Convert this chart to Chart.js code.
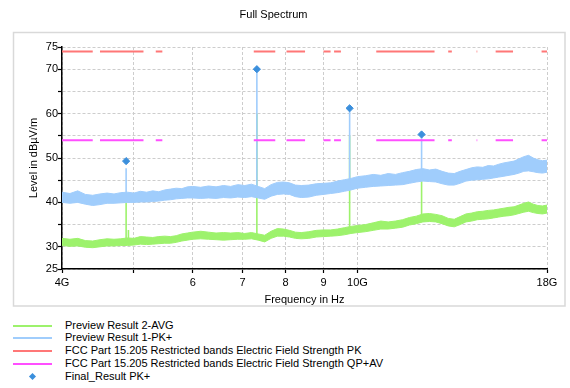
<!DOCTYPE html>
<html><head><meta charset="utf-8">
<script src="https://cdn.jsdelivr.net/npm/chart.js@4/dist/chart.umd.min.js"></script>
<style>
html,body{margin:0;padding:0;background:#fff;}
#wrap{position:relative;width:570px;height:388px;overflow:hidden;font-family:"Liberation Sans",Arial,sans-serif;}
#c{position:absolute;left:0;top:0;}
.lg{position:absolute;left:0;width:570px;height:13px;line-height:13px;font-size:11px;color:#000;white-space:nowrap;}
.lg .sw{position:absolute;left:13px;top:6px;width:39px;height:2px;}
.lg .mk{position:absolute;left:29.5px;top:4px;width:5px;height:5px;transform:rotate(45deg);}
.lg .tx{position:absolute;left:65px;top:0;}
</style></head><body>
<div id="wrap"><canvas id="c" width="570" height="310"></canvas><div id="legend"></div></div>
<script>
// ---- data (GHz / dBµV/m) ----
const freqGHz = [4.0,4.1,4.2,4.3,4.4,4.5,4.6,4.7,4.8,4.9,5.0,5.1,5.2,5.3,5.4,5.5,5.6,5.7,5.8,5.9,6.0,
  6.15,6.3,6.45,6.6,6.75,6.9,7.05,7.2,7.35,7.5,7.65,7.8,7.95,8.1,8.25,8.4,
  8.6,8.8,9.0,9.2,9.4,9.6,9.8,10.0,
  10.25,10.5,10.75,11.0,11.25,11.5,11.75,12.0,12.25,12.5,12.75,13.0,13.25,13.5,13.75,14.0,
  14.25,14.5,14.75,15.0,15.25,15.5,15.75,16.0,16.25,16.5,16.75,17.0,17.25,17.5,17.75,18.0];
const pkHi = [42.3,42.0,42.6,41.8,41.6,41.9,42.1,41.9,42.2,42.3,42.1,42.5,42.3,42.6,42.4,42.8,43.0,43.2,43.1,43.5,43.6,
  43.4,43.7,43.5,43.8,43.6,44.0,43.8,44.1,43.6,43.1,44.0,44.5,44.6,44.4,43.9,43.8,
  43.9,44.2,44.3,44.4,44.8,45.1,45.4,45.8,
  46.0,46.3,46.1,46.5,46.3,46.7,47.0,47.4,47.6,47.3,47.5,47.0,46.6,46.5,47.0,47.4,
  47.8,48.0,47.9,48.3,48.2,48.6,48.9,49.1,49.3,49.8,50.3,50.6,50.0,49.6,49.4,49.5];
const pkLo = [40.0,39.8,40.0,39.6,39.3,39.5,39.8,39.8,39.9,40.0,40.0,40.1,40.1,40.2,40.3,40.5,40.6,40.8,40.9,41.0,41.0,
  40.9,41.0,40.9,41.1,41.0,41.2,41.1,41.3,41.0,40.7,41.4,41.8,41.9,41.8,41.3,41.1,
  41.2,41.6,41.8,42.0,42.2,42.5,42.8,43.2,
  43.4,43.6,43.7,43.8,43.9,44.0,44.3,44.6,44.8,44.7,44.6,44.2,43.9,43.9,44.3,44.8,
  45.0,45.1,45.2,45.3,45.5,45.7,45.9,46.1,46.3,46.6,47.0,47.1,46.9,46.7,46.6,46.8];
const avgHi = [31.9,31.7,31.9,31.4,31.3,31.6,31.8,31.7,31.8,32.0,31.9,32.3,32.2,32.1,32.3,32.4,32.3,32.5,32.9,33.1,33.3,
  33.5,33.3,33.1,33.2,33.1,33.2,33.0,33.2,32.9,32.6,33.5,34.1,34.0,33.7,33.3,33.2,
  33.4,33.7,33.8,33.8,34.0,34.3,34.6,34.8,
  35.0,35.4,35.8,35.6,35.8,36.1,36.6,36.9,37.4,37.5,37.3,37.0,36.4,36.2,36.8,37.4,
  37.6,37.9,38.0,38.2,38.3,38.5,38.7,38.9,39.0,39.4,39.8,40.1,39.6,39.3,39.2,39.4];
const avgLo = [30.3,30.1,30.2,29.9,29.8,30.0,30.2,30.2,30.3,30.3,30.4,30.6,30.5,30.6,30.7,30.8,30.8,31.0,31.3,31.5,31.7,
  31.8,31.7,31.6,31.5,31.6,31.7,31.7,31.8,31.5,31.1,31.9,32.4,32.4,32.2,31.9,31.8,
  31.9,32.2,32.3,32.4,32.5,32.7,33.0,33.2,
  33.4,33.7,34.0,34.0,34.2,34.4,34.9,35.2,35.6,35.7,35.6,35.2,34.7,34.5,35.0,35.6,
  35.8,36.1,36.2,36.3,36.5,36.7,36.9,37.0,37.2,37.5,37.8,38.0,37.7,37.5,37.4,37.6];
const pkSpikeFreqs = [4.88, 7.32, 9.76, 12.2];
const pkSpikeBase  = [41.0, 42.0, 43.5, 45.8];
const pkSpikeTop   = [47.7, 70.0, 61.2, 55.3];
const avgSpikeFreqs = [4.88, 4.915, 7.32, 9.76, 12.2];
const avgSpikeBase  = [31.0, 31.0, 32.0, 33.5, 35.8];
const avgSpikeTop   = [39.9, 33.8, 60.0, 55.0, 46.0];
const finalFreqs = [4.88, 7.32, 9.76, 12.2];
const finalPk    = [49.3, 70.0, 61.2, 55.3];
const bandStart = [4.0, 4.5, 5.35, 7.25, 8.025, 9.0, 9.3, 10.6, 13.25, 14.47, 15.35, 17.7];
const bandEnd   = [4.4, 5.15, 5.46, 7.75, 8.5, 9.2, 9.5, 12.7, 13.4, 14.5, 16.2, 18.0];
const limitPk = 74;
const limitQpAv = 54;
const xTickValues = [4, 5, 6, 7, 8, 9, 10, 18];
const xTickLabels = ['4G', '', '6', '7', '8', '9', '10G', '18G'];
const yLabeled = [25, 30, 40, 50, 60, 70, 75];

const cGreen = '#9df26c', cBlue = '#a0cdfc', cRed = '#ff7777', cMag = '#ff4fff', cMark = '#3b8fdc';
const legendItems = [
  {label: 'Preview Result 2-AVG', color: cGreen, kind: 'line'},
  {label: 'Preview Result 1-PK+', color: cBlue, kind: 'line'},
  {label: 'FCC Part 15.205 Restricted bands Electric Field Strength PK', color: cRed, kind: 'line'},
  {label: 'FCC Part 15.205 Restricted bands Electric Field Strength QP+AV', color: cMag, kind: 'line'},
  {label: 'Final_Result PK+', color: cMark, kind: 'marker'}
];

// ---- build datasets ----
const pts = (xs, ys) => xs.map((x, i) => ({x: x, y: ys[i]}));
function spikes(fs, base, top) {
  const out = [];
  fs.forEach((f, i) => { out.push({x: f, y: base[i]}, {x: f, y: top[i]}, {x: f, y: null}); });
  return out;
}
function limit(level) {
  const out = [];
  bandStart.forEach((s, i) => { out.push({x: s, y: level}, {x: bandEnd[i], y: level}, {x: bandEnd[i], y: null}); });
  return out;
}
const lineBase = {pointRadius: 0, pointHoverRadius: 0, tension: 0, spanGaps: false};
const FONT = '"Liberation Sans", Arial, sans-serif';
Chart.defaults.font.family = FONT;
Chart.defaults.font.size = 11;
Chart.defaults.color = '#000';

const framePlugin = {
  id: 'frame',
  beforeDraw(chart) {
    const ctx = chart.ctx;
    ctx.save();
    ctx.strokeStyle = '#d9d9d9';
    ctx.lineWidth = 1.5;
    ctx.strokeRect(13.5, 32.5, 551.5, 273.5);
    ctx.restore();
  }
};

new Chart(document.getElementById('c'), {
  type: 'line',
  data: {
    datasets: [
      Object.assign({}, lineBase, {label: 'Final_Result PK+', data: pts(finalFreqs, finalPk), showLine: false,
        pointRadius: 3.6, pointStyle: 'rectRot', backgroundColor: cMark, borderColor: cMark, borderWidth: 1, order: 0}),
      Object.assign({}, lineBase, {label: 'FCC PK', data: limit(limitPk), borderColor: cRed, borderWidth: 2, fill: false, order: 1}),
      Object.assign({}, lineBase, {label: 'FCC QP+AV', data: limit(limitQpAv), borderColor: cMag, borderWidth: 2, fill: false, order: 1}),
      Object.assign({}, lineBase, {label: 'PK spikes', data: spikes(pkSpikeFreqs, pkSpikeBase, pkSpikeTop), borderColor: cBlue, borderWidth: 1.6, fill: false, order: 2}),
      Object.assign({}, lineBase, {label: 'Preview Result 1-PK+', data: pts(freqGHz, pkHi), borderColor: cBlue, backgroundColor: cBlue, borderWidth: 1, fill: '+1', order: 3}),
      Object.assign({}, lineBase, {label: 'PK low', data: pts(freqGHz, pkLo), borderColor: cBlue, borderWidth: 1, fill: false, order: 3}),
      Object.assign({}, lineBase, {label: 'AVG spikes', data: spikes(avgSpikeFreqs, avgSpikeBase, avgSpikeTop), borderColor: cGreen, borderWidth: 1.6, fill: false, order: 4}),
      Object.assign({}, lineBase, {label: 'Preview Result 2-AVG', data: pts(freqGHz, avgHi), borderColor: cGreen, backgroundColor: cGreen, borderWidth: 1, fill: '+1', order: 5}),
      Object.assign({}, lineBase, {label: 'AVG low', data: pts(freqGHz, avgLo), borderColor: cGreen, borderWidth: 1, fill: false, order: 5})
    ]
  },
  options: {
    responsive: false,
    animation: false,
    events: [],
    layout: {padding: {left: 0, right: 23, top: 0, bottom: 0}},
    plugins: {
      legend: {display: false},
      tooltip: {enabled: false},
      title: {display: true, text: 'Full Spectrum', font: {size: 11, weight: 'normal', family: FONT}, color: '#000',
        padding: {top: 8.4, bottom: 25.4}}
    },
    scales: {
      x: {
        type: 'logarithmic', min: 4, max: 18,
        afterBuildTicks(scale) { scale.ticks = xTickValues.map(v => ({value: v})); },
        afterFit(scale) { scale.height = 41; },
        ticks: {autoSkip: false, maxRotation: 0, padding: 3, font: {size: 11},
          callback(value) { const i = xTickValues.indexOf(value); return i >= 0 ? xTickLabels[i] : ''; }},
        grid: {color: '#cdcdcd', lineWidth: 1, tickColor: '#000', tickLength: 4, tickWidth: 1.2},
        border: {display: true, color: '#000', width: 1.5, dash: [3, 2]},
        title: {display: true, text: 'Frequency in Hz', font: {size: 11}, color: '#000', padding: {top: 0, bottom: 3.4}}
      },
      y: {
        type: 'linear', min: 25, max: 75,
        afterFit(scale) { scale.width = 62; },
        ticks: {stepSize: 5, autoSkip: false, padding: 0, font: {size: 11},
          callback(value) { return yLabeled.indexOf(value) >= 0 ? String(value) : ''; }},
        grid: {color: '#cdcdcd', lineWidth: 1, tickColor: '#000', tickLength: 4, tickWidth: 1.2},
        border: {display: true, color: '#000', width: 1.5, dash: [3, 2]},
        title: {display: true, text: 'Level in dBµV/m', font: {size: 11}, color: '#000', padding: {top: 27.4, bottom: 0}}
      }
    }
  },
  plugins: [framePlugin]
});

// ---- legend ----
const lg = document.getElementById('legend');
legendItems.forEach((it, i) => {
  const row = document.createElement('div');
  row.className = 'lg';
  row.style.top = (318.5 + i * 12.75) + 'px';
  const sw = document.createElement('div');
  if (it.kind === 'line') { sw.className = 'sw'; sw.style.background = it.color; }
  else { sw.className = 'mk'; sw.style.background = it.color; }
  const tx = document.createElement('span');
  tx.className = 'tx';
  tx.textContent = it.label;
  row.appendChild(sw); row.appendChild(tx);
  lg.appendChild(row);
});
</script>
</body></html>
